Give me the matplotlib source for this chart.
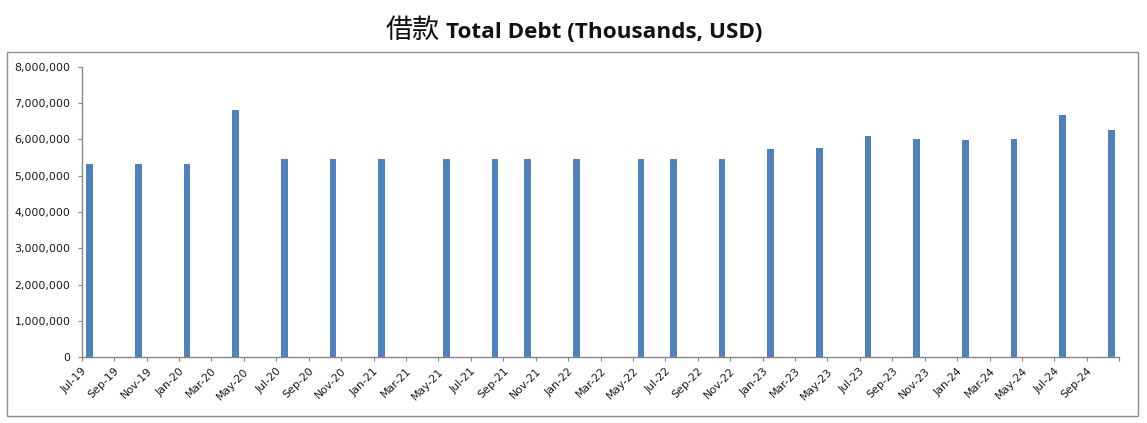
import numpy as np
import pandas as pd
import matplotlib
matplotlib.use("Agg")
import matplotlib.pyplot as plt
import matplotlib.transforms as mtransforms
from matplotlib.patches import Rectangle
from matplotlib.ticker import FuncFormatter

# report dates (year-month) and total debt in thousands of USD
report_months = ['2019-07', '2019-10', '2020-01', '2020-04', '2020-07', '2020-10',
                 '2021-01', '2021-05', '2021-08', '2021-10', '2022-01', '2022-05',
                 '2022-07', '2022-10', '2023-01', '2023-04', '2023-07', '2023-10',
                 '2024-01', '2024-04', '2024-07', '2024-10']
total_debt = [5320000, 5320000, 5320000, 6810000, 5460000, 5460000,
              5460000, 5460000, 5460000, 5460000, 5460000, 5460000,
              5460000, 5460000, 5730000, 5760000, 6090000, 6010000,
              5970000, 6010000, 6670000, 6260000]

axis_start = pd.Period('2019-07', freq='M')
axis_end = pd.Period('2024-11', freq='M')

title_cn = '借款'
title_en = 'Total Debt (Thousands, USD)'

BAR_COLOR = '#4F81BD'
AXIS_GRAY = '#868686'

plt.rcParams['font.family'] = ['DejaVu Sans']

fig = plt.figure(figsize=(11.47, 4.23), dpi=100)
W, H = 1147, 423

# chart frame
fig.patches.append(Rectangle((6.5 / W, 1 - 415.5 / H), (1137.5 - 6.5) / W, (415.5 - 52.5) / H,
                             transform=fig.transFigure, fill=False,
                             edgecolor='#8c8c8c', linewidth=1.0))

ax = fig.add_axes([81.7 / W, 1 - 357.3 / H, (1119.3 - 81.7) / W, (357.3 - 66.7) / H])

# month offsets from the start of the axis
month_pos = np.array([(pd.Period(m, freq='M') - axis_start).n for m in report_months])
n_months = (axis_end - axis_start).n

ax.bar(month_pos + 0.5, total_debt, width=0.41, color=BAR_COLOR, align='center', zorder=2)

ax.set_xlim(0, n_months)
ax.set_ylim(0, 8000000)
ax.set_yticks(np.arange(0, 8000001, 1000000))
ax.yaxis.set_major_formatter(FuncFormatter(lambda v, p: '{:,.0f}'.format(v)))

tick_periods = pd.period_range(axis_start, axis_end, freq='M')[::2]
ax.set_xticks([(p - axis_start).n for p in tick_periods])
labels = [p.strftime('%b-%y') for p in tick_periods]
labels[-1] = ''
ax.set_xticklabels(labels, rotation=45, ha='right', va='top', rotation_mode='anchor')

# nudge the slanted month labels right/down a bit
shift = mtransforms.ScaledTranslation(11 / 100, -4 / 100, fig.dpi_scale_trans)
for lbl in ax.get_xticklabels():
    lbl.set_transform(lbl.get_transform() + shift)

for side in ['top', 'right']:
    ax.spines[side].set_visible(False)
for side in ['left', 'bottom']:
    ax.spines[side].set_color(AXIS_GRAY)
    ax.spines[side].set_linewidth(1.0)

ax.tick_params(axis='both', direction='out', length=3.2, width=0.8, color=AXIS_GRAY,
               labelsize=7.9, labelcolor='#1a1a1a')
ax.tick_params(axis='y', pad=5)
ax.tick_params(axis='x', pad=3)

# title: Chinese part in regular weight, English part bold
fig.text(386 / W, 1 - 38 / H, title_cn, family=['Noto Sans CJK SC'], fontsize=19.5,
         ha='left', va='baseline', color='#111111')
fig.text(445.5 / W, 1 - 38 / H, title_en, family=['Open Sans'], fontweight='bold', fontsize=16.2,
         ha='left', va='baseline', color='#111111')

fig.savefig('out.png', dpi=100)
